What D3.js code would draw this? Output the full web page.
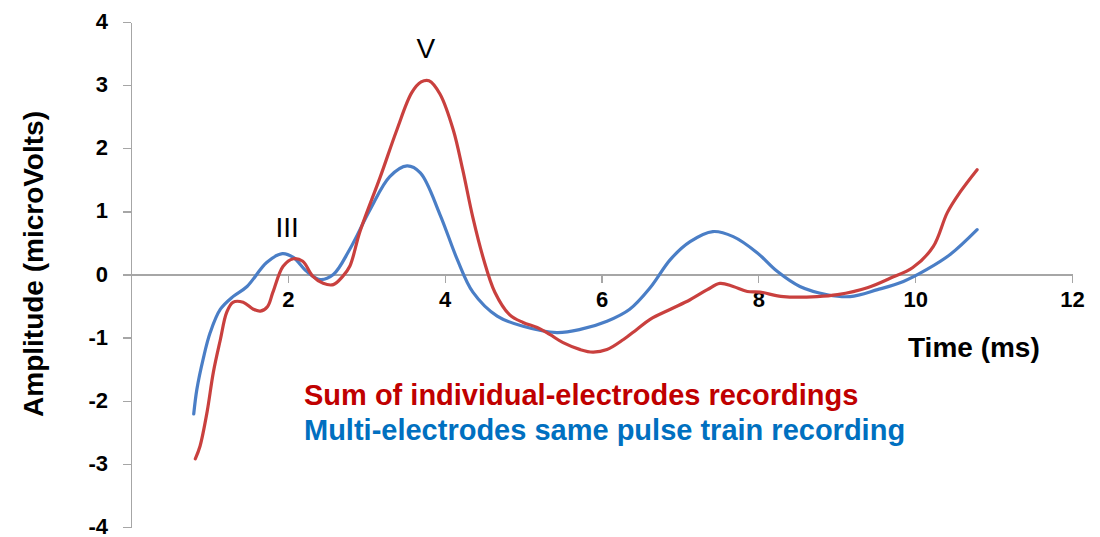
<!DOCTYPE html>
<html lang="en">
<head>
    <meta charset="utf-8">
    <title>D3.js</title>
    <script type="text/javascript" src="https://d3js.org/d3.v7.min.js"></script>
    <style type="text/css">
        body {
            margin: 0;
            background: #fff;
            font-family: Arial, "Liberation Sans", sans-serif;
        }
        .axis path,
        .axis line {
            fill: none;
            stroke: #a6a6a6;
            stroke-width: 1.3;
            shape-rendering: crispEdges;
        }
        .axis text {
            font-family: Arial, "Liberation Sans", sans-serif;
            font-size: 22px;
            font-weight: bold;
            fill: #000;
        }
        .title {
            font-size: 28px;
            font-weight: bold;
            fill: #000;
        }
        .peak {
            font-size: 28px;
            fill: #000;
        }
        .legend {
            font-size: 29px;
            font-weight: bold;
        }
    </style>
</head>
<body>
<div id="viz"></div>
<script type="text/javascript">
    // sum of individual-electrodes recordings (red)
    var timeSum = [0.82, 0.88, 0.97, 1.05, 1.14, 1.22, 1.30, 1.43, 1.56, 1.65, 1.74, 1.81, 1.94, 2.07, 2.19,
        2.32, 2.45, 2.58, 2.70, 2.79, 2.92, 3.18, 3.39, 3.58, 3.70, 3.80, 3.94, 4.11, 4.23, 4.36, 4.49, 4.64,
        4.83, 5.00, 5.18, 5.34, 5.51, 5.73, 5.89, 6.07, 6.28, 6.45, 6.62, 6.88, 7.13, 7.35, 7.51, 7.68,
        7.86, 8.02, 8.32, 8.75, 9.01, 9.39, 9.68, 9.97, 10.23, 10.41, 10.57, 10.79];
    var ampSum = [-2.92, -2.72, -2.18, -1.55, -1.03, -0.60, -0.44, -0.44, -0.55, -0.58, -0.51, -0.28, 0.13, 0.25, 0.21,
        -0.03, -0.14, -0.16, -0.03, 0.13, 0.68, 1.55, 2.29, 2.88, 3.05, 3.07, 2.86, 2.29, 1.66, 0.90, 0.27, -0.28,
        -0.64, -0.76, -0.84, -0.95, -1.08, -1.19, -1.23, -1.19, -1.03, -0.87, -0.71, -0.55, -0.40, -0.24, -0.14, -0.19,
        -0.27, -0.28, -0.35, -0.35, -0.32, -0.21, -0.06, 0.11, 0.44, 0.98, 1.30, 1.66];

    // multi-electrodes same pulse train recording (blue)
    var timeMulti = [0.80, 0.84, 0.92, 1.01, 1.14, 1.30, 1.48, 1.73, 1.93, 2.07, 2.24, 2.41, 2.58, 2.79, 3.05,
        3.30, 3.52, 3.69, 3.94, 4.16, 4.36, 4.67, 5.00, 5.43, 5.73, 6.07, 6.36, 6.62, 6.88, 7.13, 7.42,
        7.68, 7.98, 8.24, 8.53, 8.88, 9.17, 9.52, 9.85, 10.15, 10.45, 10.79];
    var ampMulti = [-2.21, -1.82, -1.34, -0.92, -0.55, -0.35, -0.19, 0.19, 0.33, 0.27, 0.05, -0.08, 0.00, 0.40, 1.03,
        1.55, 1.72, 1.61, 0.95, 0.24, -0.28, -0.66, -0.82, -0.92, -0.87, -0.74, -0.55, -0.21, 0.24, 0.52, 0.68,
        0.60, 0.35, 0.05, -0.19, -0.32, -0.35, -0.24, -0.11, 0.08, 0.32, 0.71];

    var xTicks = [2, 4, 6, 8, 10, 12];
    var yTicks = [-4, -3, -2, -1, 0, 1, 2, 3, 4];

    var peakNames = ["III", "V"];
    var peakTime = [1.99, 3.76];
    var peakAmp = [0.59, 3.43];

    var legendNames = ["Sum of individual-electrodes recordings", "Multi-electrodes same pulse train recording"];
    var legendColors = ["#c00000", "#0070c0"];

    var fullW = 1100, fullH = 537;
    var margin = {top: 22, right: 28, bottom: 10, left: 131};
    var width = fullW - margin.left - margin.right;
    var height = fullH - margin.top - margin.bottom;

    var x = d3.scaleLinear().domain([0, 12]).range([0, width]);
    var y = d3.scaleLinear().domain([-4, 4]).range([height, 0]);

    var svg = d3.select("#viz").append("svg")
        .attr("width", fullW)
        .attr("height", fullH);

    var chart = svg.append("g")
        .attr("transform", "translate(" + margin.left + "," + margin.top + ")");

    // y axis
    var yAxis = chart.append("g")
        .attr("class", "axis")
        .call(d3.axisLeft(y).tickValues(yTicks).tickSize(8).tickSizeOuter(0).tickPadding(15)
            .tickFormat(function(d) { return d < 0 ? "-" + Math.abs(d) : d; }));
    yAxis.selectAll("text").attr("dy", "0.3em");

    // x axis, crossing at zero
    var xAxis = chart.append("g")
        .attr("class", "axis")
        .attr("transform", "translate(0," + y(0) + ")")
        .call(d3.axisBottom(x).tickValues(xTicks).tickSize(8).tickSizeOuter(0).tickPadding(9));

    var line = d3.line()
        .x(function(d) { return x(d[0]); })
        .y(function(d) { return y(d[1]); })
        .curve(d3.curveCatmullRom.alpha(0.5));

    var seriesList = [
        {t: timeMulti, a: ampMulti, color: "#4a7ec6"},
        {t: timeSum, a: ampSum, color: "#c9403e"}
    ];

    chart.selectAll(".series")
        .data(seriesList)
        .enter()
        .append("path")
        .attr("class", "series")
        .attr("fill", "none")
        .attr("stroke", function(d) { return d.color; })
        .attr("stroke-width", 3.2)
        .attr("stroke-linejoin", "round")
        .attr("stroke-linecap", "round")
        .attr("d", function(d) { return line(d.t.map(function(v, i) { return [v, d.a[i]]; })); });

    // peak labels
    chart.selectAll(".peak")
        .data(peakNames)
        .enter()
        .append("text")
        .attr("class", "peak")
        .attr("text-anchor", "middle")
        .attr("x", function(d, i) { return x(peakTime[i]); })
        .attr("y", function(d, i) { return y(peakAmp[i]); })
        .text(function(d) { return d; });

    // axis titles
    svg.append("text")
        .attr("class", "title")
        .attr("text-anchor", "middle")
        .attr("transform", "translate(43,264) rotate(-90)")
        .text("Amplitude (microVolts)");

    svg.append("text")
        .attr("class", "title")
        .attr("x", 908)
        .attr("y", 357)
        .text("Time (ms)");

    // legend text
    svg.selectAll(".legend")
        .data(legendNames)
        .enter()
        .append("text")
        .attr("class", "legend")
        .attr("x", 304)
        .attr("y", function(d, i) { return 405 + i * 35; })
        .attr("fill", function(d, i) { return legendColors[i]; })
        .text(function(d) { return d; });
</script>
</body>
</html>
